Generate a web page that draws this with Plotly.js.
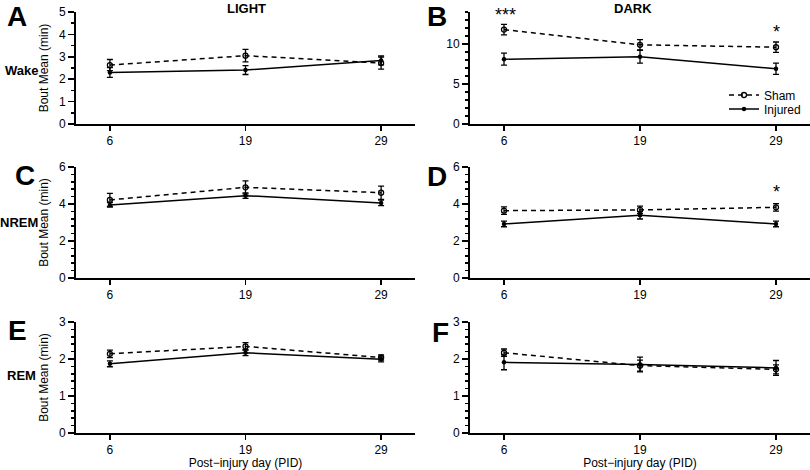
<!DOCTYPE html>
<html>
<head>
<meta charset="utf-8">
<script src="https://cdn.plot.ly/plotly-3.0.1.min.js"></script>
<style>html,body{margin:0;padding:0;background:#fff;}#chart{width:810px;height:470px;}</style>
</head>
<body>
<div id="chart"></div>
<script>
// Post-injury days (categories)
var days = ['6', '19', '29'];

// Panel A: Wake, LIGHT
var wakeLightSham = [2.63, 3.05, 2.72];
var wakeLightShamErr = [0.25, 0.28, 0.27];
var wakeLightInj = [2.30, 2.41, 2.84];
var wakeLightInjErr = [0.22, 0.20, 0.20];

// Panel B: Wake, DARK
var wakeDarkSham = [11.8, 9.9, 9.6];
var wakeDarkShamErr = [0.65, 0.65, 0.65];
var wakeDarkInj = [8.1, 8.4, 6.9];
var wakeDarkInjErr = [0.75, 0.8, 0.7];

// Panel C: NREM, LIGHT
var nremLightSham = [4.22, 4.90, 4.61];
var nremLightShamErr = [0.35, 0.35, 0.36];
var nremLightInj = [3.95, 4.45, 4.06];
var nremLightInjErr = [0.12, 0.15, 0.15];

// Panel D: NREM, DARK
var nremDarkSham = [3.64, 3.68, 3.82];
var nremDarkShamErr = [0.2, 0.2, 0.2];
var nremDarkInj = [2.92, 3.39, 2.92];
var nremDarkInjErr = [0.15, 0.2, 0.15];

// Panel E: REM, LIGHT
var remLightSham = [2.14, 2.34, 2.04];
var remLightShamErr = [0.1, 0.1, 0.07];
var remLightInj = [1.87, 2.17, 1.99];
var remLightInjErr = [0.08, 0.08, 0.07];

// Panel F: REM, DARK
var remDarkSham = [2.17, 1.82, 1.72];
var remDarkShamErr = [0.1, 0.15, 0.12];
var remDarkInj = [1.91, 1.85, 1.76];
var remDarkInjErr = [0.2, 0.2, 0.2];

var groupNames = ['Sham', 'Injured'];
var panelLetters = ['A', 'B', 'C', 'D', 'E', 'F'];
var rowLabels = ['Wake', 'NREM', 'REM'];
var colLabels = ['LIGHT', 'DARK'];
var sigLabels = ['***', '*', '*'];

var panels = [
  {sham: wakeLightSham, shamErr: wakeLightShamErr, inj: wakeLightInj, injErr: wakeLightInjErr},
  {sham: wakeDarkSham, shamErr: wakeDarkShamErr, inj: wakeDarkInj, injErr: wakeDarkInjErr},
  {sham: nremLightSham, shamErr: nremLightShamErr, inj: nremLightInj, injErr: nremLightInjErr},
  {sham: nremDarkSham, shamErr: nremDarkShamErr, inj: nremDarkInj, injErr: nremDarkInjErr},
  {sham: remLightSham, shamErr: remLightShamErr, inj: remLightInj, injErr: remLightInjErr},
  {sham: remDarkSham, shamErr: remDarkShamErr, inj: remDarkInj, injErr: remDarkInjErr}
];

var W = 810, H = 470;
function px(x) { return x / W; }
function py(y) { return 1 - y / H; }

var xDomains = [[px(76), px(415)], [px(470), 1]];
var yDomains = [[py(124), py(12)], [py(278), py(167)], [py(433), py(322)]];
var yRanges = [[0, 5], [0, 14], [0, 6], [0, 6], [0, 3], [0, 3]];
var yDtick = [1, 5, 2, 2, 1, 1];
var yMinor = [0.5, 1, 0.4, 0.4, 0.2, 0.2];

var FONT = 'Liberation Sans, Arial, sans-serif';
var traces = [];
var legendBox = {xanchor: 'left', yanchor: 'middle', bgcolor: 'rgba(0,0,0,0)',
                 font: {size: 12, family: FONT, color: '#000'}, itemwidth: 30, borderwidth: 0};
var layout = {
  width: W, height: H,
  margin: {l: 0, r: 0, t: 0, b: 0},
  paper_bgcolor: '#fff', plot_bgcolor: '#fff',
  font: {family: FONT, size: 12, color: '#000'},
  showlegend: true,
  legend: Object.assign({x: px(724), y: py(95)}, legendBox),
  legend2: Object.assign({x: px(724), y: py(109)}, legendBox),
  annotations: []
};

panels.forEach(function (p, i) {
  var n = i + 1;
  var xa = n === 1 ? 'x' : 'x' + n;
  var ya = n === 1 ? 'y' : 'y' + n;
  var col = i % 2, row = Math.floor(i / 2);
  traces.push({
    x: days, y: p.sham, xaxis: xa, yaxis: ya, type: 'scatter', mode: 'lines+markers',
    name: groupNames[0], legend: 'legend', showlegend: i === 1,
    line: {color: '#000', width: 1.5, dash: '5px,4px'},
    marker: {symbol: 'circle-open', size: 5, color: '#000', line: {width: 1.3, color: '#000'}},
    error_y: {type: 'data', array: p.shamErr, visible: true, color: '#000', thickness: 1.3, width: 3}
  });
  traces.push({
    x: days, y: p.inj, xaxis: xa, yaxis: ya, type: 'scatter', mode: 'lines+markers',
    name: groupNames[1], legend: 'legend2', showlegend: i === 1,
    line: {color: '#000', width: 1.5},
    marker: {symbol: 'circle', size: 4.5, color: '#000'},
    error_y: {type: 'data', array: p.injErr, visible: true, color: '#000', thickness: 1.3, width: 3}
  });
  var xkey = n === 1 ? 'xaxis' : 'xaxis' + n;
  var ykey = n === 1 ? 'yaxis' : 'yaxis' + n;
  layout[xkey] = {
    domain: xDomains[col], anchor: ya, type: 'category', categoryarray: days,
    range: [-0.25, 2.25], showline: true, linewidth: 2, linecolor: '#000',
    ticks: 'outside', ticklen: 5, tickwidth: 1.5, tickcolor: '#000',
    showgrid: false, zeroline: false, fixedrange: true,
    tickfont: {size: 12, family: FONT, color: '#000'},
    title: row === 2 ? {text: 'Post\u2212injury day (PID)', font: {size: 12, family: FONT}, standoff: 5} : {text: ''}
  };
  layout[ykey] = {
    domain: yDomains[row], anchor: xa, range: yRanges[i], dtick: yDtick[i], tick0: 0,
    showline: true, linewidth: 2, linecolor: '#000',
    ticks: 'outside', ticklen: 6, tickwidth: 1.5, tickcolor: '#000',
    minor: {dtick: yMinor[i], tick0: 0, ticks: 'outside', ticklen: 3.5, tickwidth: 1.5, tickcolor: '#000'},
    showgrid: false, zeroline: false, fixedrange: true,
    tickfont: {size: 12, family: FONT, color: '#000'},
    title: col === 0 ? {text: 'Bout Mean (min)', font: {size: 12, family: FONT}, standoff: 8} : {text: ''}
  };
});

// Panel letters
var letterPos = [[17, 16], [437, 16], [25, 175], [437, 176], [17, 330], [440, 332]];
panelLetters.forEach(function (t, i) {
  layout.annotations.push({text: '<b>' + t + '</b>', xref: 'paper', yref: 'paper',
    x: px(letterPos[i][0]), y: py(letterPos[i][1]), xanchor: 'center', yanchor: 'middle',
    showarrow: false, font: {size: 28, family: FONT, color: '#000'}});
});
// Row labels
var rowPos = [[21, 71], [19, 223], [21, 375]];
rowLabels.forEach(function (t, i) {
  layout.annotations.push({text: '<b>' + t + '</b>', xref: 'paper', yref: 'paper',
    x: px(rowPos[i][0]), y: py(rowPos[i][1]), xanchor: 'center', yanchor: 'middle',
    showarrow: false, font: {size: 13, family: FONT, color: '#000'}});
});
// Column labels
var colPos = [[247, 8], [633, 8]];
colLabels.forEach(function (t, i) {
  layout.annotations.push({text: '<b>' + t + '</b>', xref: 'paper', yref: 'paper',
    x: px(colPos[i][0]), y: py(colPos[i][1]), xanchor: 'center', yanchor: 'middle',
    showarrow: false, font: {size: 13, family: FONT, color: '#000'}});
});
// Significance markers (positions in pixels of the figure)
var sigPos = [[505, 15], [776, 32], [776, 192]];
sigLabels.forEach(function (t, i) {
  layout.annotations.push({text: t, xref: 'paper', yref: 'paper',
    x: px(sigPos[i][0]), y: py(sigPos[i][1]), xanchor: 'center', yanchor: 'middle', showarrow: false,
    font: {size: 18, family: FONT, color: '#000'}});
});

Plotly.newPlot('chart', traces, layout, {displayModeBar: false, staticPlot: true});
</script>
</body>
</html>
